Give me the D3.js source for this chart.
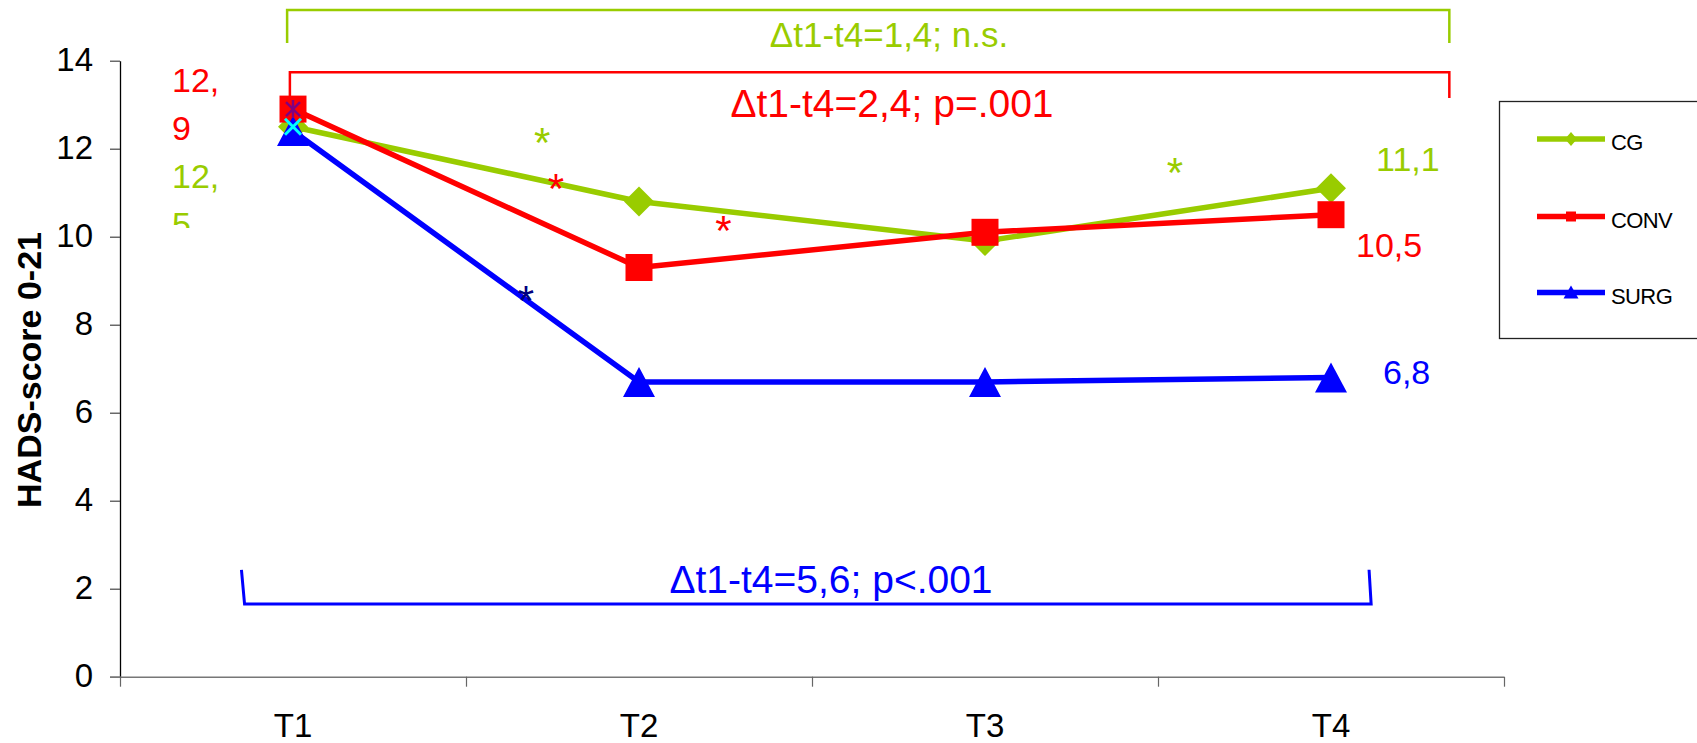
<!DOCTYPE html>
<html><head><meta charset="utf-8">
<script src="https://cdn.jsdelivr.net/npm/d3@7"></script>
<style>
body{margin:0;background:#fff}
svg{display:block;font-family:"Liberation Sans",Arial,sans-serif}
</style>
</head><body><svg id="c" width="1697" height="743"></svg>
<script>
const categories = ["T1","T2","T3","T4"];
const seriesNames = ["CG","CONV","SURG"];
const cgValues = [12.5, 10.8, 9.9, 11.1];
const convValues = [12.9, 9.3, 10.1, 10.5];
const surgValues = [12.4, 6.7, 6.7, 6.8];
const xMarkValues = [12.5, null, null, null];
const starMarkValues = [12.9, null, null, null];
const yTickValues = [0, 2, 4, 6, 8, 10, 12, 14];
const yTitle = "HADS-score 0-21";
const deltaTexts = ["Δt1-t4=1,4; n.s.", "Δt1-t4=2,4; p=.001", "Δt1-t4=5,6; p<.001"];
const startLabelCG = ["12,", "5"];
const startLabelCONV = ["12,", "9"];
const endLabels = ["11,1", "10,5", "6,8"];
const sigSeries = ["CG", "CONV", "CONV", "SURG", "CG"];
const sigPos = [1.22, 1.26, 1.744, 1.173, 3.049];
const sigValues = [12.35, 11.31, 10.36, 8.77, 11.67];

const colors = {CG: "#99CC00", CONV: "#FF0000", SURG: "#0000FF"};
const sigColors = {CG: "#99CC00", CONV: "#FF0000", SURG: "#000080"};
const seriesData = {CG: cgValues, CONV: convValues, SURG: surgValues};

const svg = d3.select("#c");
const y = d3.scaleLinear().domain([0, 14]).range([676.7, 60.7]);
const xb = d3.scaleBand().domain(categories).range([120, 1504]).padding(0);
const xLin = d3.scaleLinear().domain([0, 4]).range([120, 1504]);
const cx = i => xb(categories[i]) + xb.bandwidth() / 2;

// Y axis
const yAxis = svg.append("g").attr("transform", "translate(120,0)")
  .call(d3.axisLeft(y).tickValues(yTickValues).tickSize(10).tickSizeOuter(0).tickPadding(17));
yAxis.select(".domain").attr("stroke", "#000").attr("stroke-width", 1.3);
yAxis.selectAll(".tick line").attr("stroke", "#444").attr("stroke-width", 1.2);
yAxis.selectAll(".tick text").attr("font-size", 33).attr("fill", "#000")
  .attr("font-family", "Liberation Sans, Arial, sans-serif").attr("dy", "0.3em");

// X axis (ticks at category boundaries)
const xAxis = svg.append("g").attr("transform", `translate(0,${y(0)})`)
  .call(d3.axisBottom(xLin).tickValues([0, 1, 2, 3, 4]).tickSize(10).tickSizeOuter(0).tickFormat(""));
xAxis.select(".domain").attr("stroke", "#777").attr("stroke-width", 1.6)
  .attr("d", `M${110},0.5H${1504}`);
xAxis.selectAll(".tick line").attr("stroke", "#666").attr("stroke-width", 1.2);
svg.append("g").selectAll("text").data(categories).join("text")
  .attr("x", (d, i) => cx(i)).attr("y", 737).attr("text-anchor", "middle")
  .attr("font-size", 33).attr("fill", "#000").text(d => d);

// Y title
svg.append("text").attr("transform", "translate(41,370) rotate(-90)")
  .attr("text-anchor", "middle").attr("font-size", 34).attr("font-weight", "bold")
  .attr("fill", "#000").text(yTitle);

// Brackets
const bracket = (pts, color, w) => svg.append("path")
  .attr("d", d3.line()(pts.map(p => [xLin(p[0]), y(p[1])])))
  .attr("fill", "none").attr("stroke", color).attr("stroke-width", w);
bracket([[0.483, 14.4], [0.483, 15.15], [3.842, 15.15], [3.842, 14.4]], colors.CG, 2.5);
bracket([[0.491, 13.2], [0.491, 13.74], [3.842, 13.74], [3.842, 13.15]], colors.CONV, 2.5);
bracket([[0.351, 2.43], [0.36, 1.65], [3.616, 1.65], [3.61, 2.43]], colors.SURG, 3);

// Delta texts
svg.append("text").attr("x", 889).attr("y", 46.5).attr("text-anchor", "middle")
  .attr("font-size", 35).attr("fill", colors.CG).text(deltaTexts[0]);
svg.append("text").attr("x", 892).attr("y", 116.5).attr("text-anchor", "middle")
  .attr("font-size", 39).attr("fill", colors.CONV).text(deltaTexts[1]);
svg.append("text").attr("x", 831).attr("y", 593).attr("text-anchor", "middle")
  .attr("font-size", 39).attr("fill", colors.SURG).text(deltaTexts[2]);

// Lines
const line = d3.line().defined(d => d != null).x((d, i) => cx(i)).y(d => y(d));
const markerPath = {
  CG: "M0,-15L15,0L0,15L-15,0Z",
  CONV: "M-13.5,-13.5H13.5V13.5H-13.5Z",
  SURG: "M0,-15L16,15L-16,15Z"
};
seriesNames.forEach(s => {
  const g = svg.append("g");
  g.append("path").attr("d", line(seriesData[s])).attr("fill", "none")
    .attr("stroke", colors[s]).attr("stroke-width", 5.5).attr("stroke-linejoin", "round");
  g.selectAll("path.m").data(seriesData[s]).join("path").attr("class", "m")
    .attr("transform", (d, i) => `translate(${cx(i)},${y(d)})`)
    .attr("d", markerPath[s]).attr("fill", colors[s]);
});

// Extra markers at T1 (cyan x, purple asterisk)
xMarkValues.forEach((v, i) => {
  if (v == null) return;
  svg.append("path").attr("transform", `translate(${cx(i)},${y(v)})`)
    .attr("d", "M-8,-8L8,8M-8,8L8,-8").attr("stroke", "#00FFFF").attr("stroke-width", 3);
});
starMarkValues.forEach((v, i) => {
  if (v == null) return;
  svg.append("path").attr("transform", `translate(${cx(i)},${y(v)})`)
    .attr("d", "M-7,-7L7,7M-7,7L7,-7M0,-9V9").attr("stroke", "#800080").attr("stroke-width", 2.5);
});

// Significance asterisks
svg.append("g").selectAll("text").data(sigPos).join("text")
  .attr("x", d => xLin(d)).attr("y", (d, i) => y(sigValues[i]) + 24)
  .attr("text-anchor", "middle").attr("font-size", 42)
  .attr("fill", (d, i) => sigColors[sigSeries[i]]).text("*");

// Start labels
svg.append("defs").append("clipPath").attr("id", "clipCG")
  .append("rect").attr("x", 0).attr("y", 0).attr("width", 400).attr("height", 228);
const tConv = svg.append("text").attr("font-size", 34).attr("fill", colors.CONV);
startLabelCONV.forEach((t, k) => tConv.append("tspan").attr("x", 172).attr("y", 92 + k * 48).text(t));
const tCg = svg.append("text").attr("font-size", 34).attr("fill", colors.CG).attr("clip-path", "url(#clipCG)");
startLabelCG.forEach((t, k) => tCg.append("tspan").attr("x", 172).attr("y", 188 + k * 48).text(t));

// End labels
const endX = [1376, 1356, 1383];
const endOff = [-17, 42, 6];
seriesNames.forEach((s, k) => {
  svg.append("text").attr("x", endX[k]).attr("y", y(seriesData[s][3]) + endOff[k])
    .attr("font-size", 34).attr("fill", colors[s]).text(endLabels[k]);
});

// Legend
svg.append("rect").attr("x", 1499.5).attr("y", 101.5).attr("width", 220).attr("height", 237)
  .attr("fill", "#fff").attr("stroke", "#222").attr("stroke-width", 1.3);
const legY = [139, 216.5, 292.5];
const legMarker = {
  CG: "M0,-7L6,0L0,7L-6,0Z",
  CONV: "M-5,-5H5V5H-5Z",
  SURG: "M0,-7L7.5,6L-7.5,6Z"
};
seriesNames.forEach((s, k) => {
  const g = svg.append("g").attr("transform", `translate(0,${legY[k]})`);
  g.append("line").attr("x1", 1537).attr("x2", 1605).attr("stroke", colors[s]).attr("stroke-width", 5.5);
  g.append("path").attr("transform", "translate(1571,0)").attr("d", legMarker[s]).attr("fill", colors[s]);
  g.append("text").attr("x", 1611).attr("y", 11).attr("font-size", 22).attr("fill", "#000")
    .attr("letter-spacing", -0.6).text(s);
});
</script>
</body></html>
